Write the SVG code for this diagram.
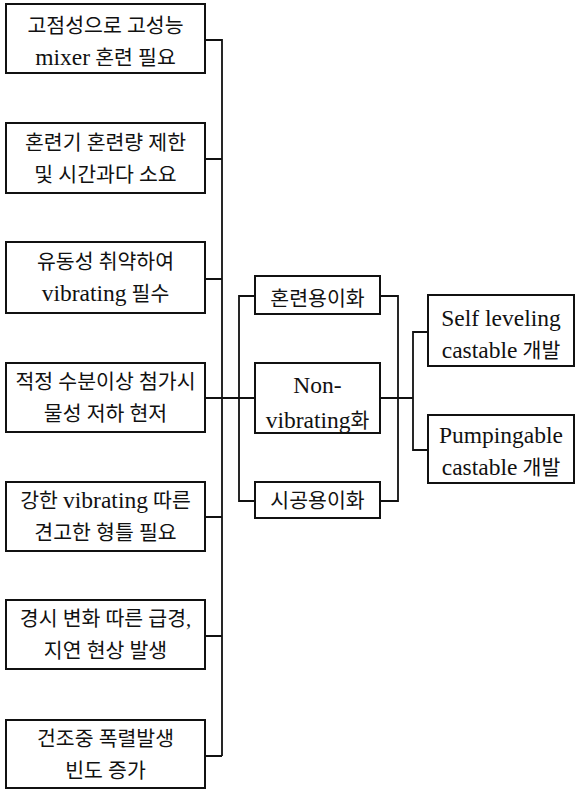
<svg xmlns="http://www.w3.org/2000/svg" width="576" height="791" viewBox="0 0 576 791">
<style>
.box{fill:#fff;stroke:#111;stroke-width:2}
.ln{fill:none;stroke:#111;stroke-width:1.8}
text{font-family:"Liberation Serif","Noto Sans CJK KR",serif;font-size:20.5px;fill:#111;text-anchor:middle}
.l{font-size:23.5px}
</style>
<rect width="576" height="791" fill="#fff"/>
<g id="connectors">
<path class="ln" d="M205 40H222V756M205 159H222M205 279H222M205 398H255M205 517H222M205 636H222M205 756H222"/>
<path class="ln" d="M255 296H239V501H255"/>
<path class="ln" d="M380 296H398V501H380M380 398H413M428 332H413V450H428"/>
</g>
<g id="n1"><rect class="box" x="6" y="4" width="199" height="69"/><text x="105.5" y="33">고점성으로 고성능</text><text x="105.5" y="65"><tspan class="l">mixer</tspan> 혼련 필요</text></g>
<g id="n2"><rect class="box" x="6" y="123" width="199" height="70"/><text x="105.5" y="150">혼련기 혼련량 제한</text><text x="105.5" y="182">및 시간과다 소요</text></g>
<g id="n3"><rect class="box" x="6" y="242" width="199" height="71"/><text x="105.5" y="269">유동성 취약하여</text><text x="105.5" y="301"><tspan class="l">vibrating</tspan> 필수</text></g>
<g id="n4"><rect class="box" x="6" y="363" width="199" height="69"/><text x="105.5" y="389">적정 수분이상 첨가시</text><text x="105.5" y="421">물성 저하 현저</text></g>
<g id="n5"><rect class="box" x="6" y="482" width="199" height="69"/><text x="105.5" y="508">강한 <tspan class="l">vibrating</tspan> 따른</text><text x="105.5" y="540">견고한 형틀 필요</text></g>
<g id="n6"><rect class="box" x="6" y="600" width="199" height="69"/><text x="105.5" y="626">경시 변화 따른 급경,</text><text x="105.5" y="658">지연 현상 발생</text></g>
<g id="n7"><rect class="box" x="6" y="720" width="199" height="68"/><text x="105.5" y="746">건조중 폭렬발생</text><text x="105.5" y="778">빈도 증가</text></g>
<g id="m1"><rect class="box" x="255" y="276" width="125" height="38"/><text x="317.5" y="306">혼련용이화</text></g>
<g id="m2"><rect class="box" x="255" y="363" width="125" height="70"/><text x="317.5" y="393"><tspan class="l">Non-</tspan></text><text x="317.5" y="428"><tspan class="l">vibrating</tspan>화</text></g>
<g id="m3"><rect class="box" x="255" y="482" width="125" height="36"/><text x="317.5" y="508">시공용이화</text></g>
<g id="r1"><rect class="box" x="428" y="295" width="146" height="71"/><text x="501" y="326"><tspan class="l">Self leveling</tspan></text><text x="501" y="358"><tspan class="l">castable</tspan> 개발</text></g>
<g id="r2"><rect class="box" x="428" y="415" width="146" height="68"/><text x="501" y="443"><tspan class="l">Pumpingable</tspan></text><text x="501" y="475"><tspan class="l">castable</tspan> 개발</text></g>
</svg>
